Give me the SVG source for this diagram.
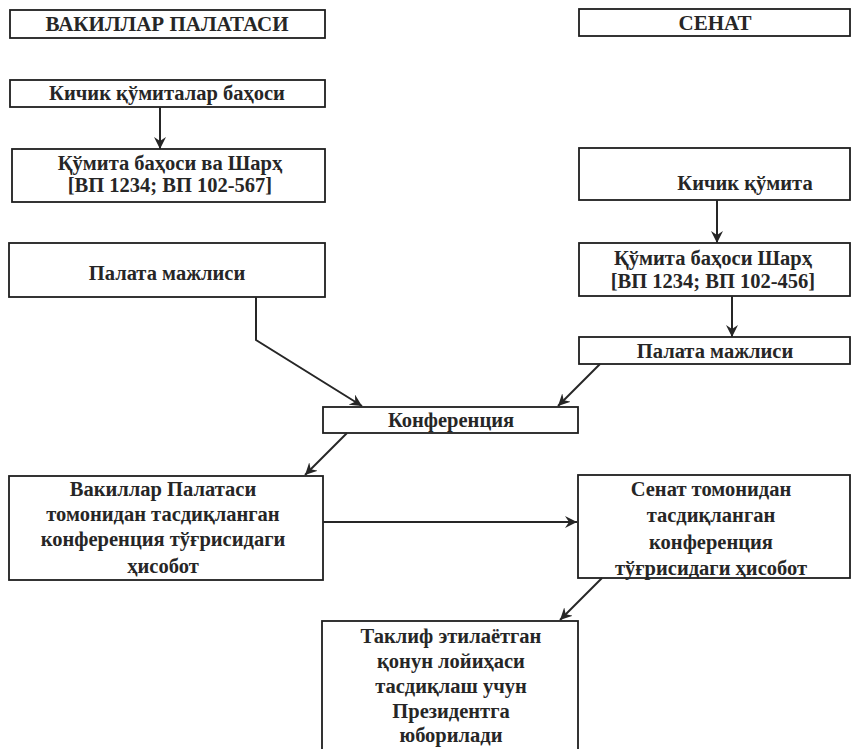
<svg xmlns="http://www.w3.org/2000/svg" width="851" height="749" viewBox="0 0 851 749">
<style>
.box{fill:#fff;stroke:#1e1e1e;stroke-width:1.8}
.t{font-family:"Liberation Serif","Times New Roman",serif;font-weight:bold;font-size:20.5px;fill:#262626;text-anchor:middle}
.h{font-size:21px}
.c{fill:none;stroke:#262626;stroke-width:2}
</style>
<defs>
<marker id="ar" markerUnits="userSpaceOnUse" markerWidth="14" markerHeight="12" refX="12" refY="6" orient="auto">
<path d="M0,0 L12,6 L0,12 L4,6 z" fill="#262626"/>
</marker>
</defs>
<rect width="851" height="749" fill="#fff"/>
<g id="n-vakillar-title"><rect class="box" x="10" y="10" width="315" height="28"/><text class="t h" x="167" y="31">ВАКИЛЛАР ПАЛАТАСИ</text></g>
<g id="n-senat-title"><rect class="box" x="579" y="9" width="271" height="27"/><text class="t h" x="715" y="30">СЕНАТ</text></g>
<g id="n-kichik-l"><rect class="box" x="10" y="80" width="315" height="27"/><text class="t" x="167" y="100">Кичик қўмиталар баҳоси</text></g>
<g id="n-qumita-l"><rect class="box" x="12" y="149" width="313" height="53"/><text class="t" x="170" y="170">Қўмита баҳоси ва Шарҳ</text><text class="t" x="170" y="192">[ВП 1234; ВП 102-567]</text></g>
<g id="n-kichik-r"><rect class="box" x="579" y="148" width="271" height="52"/><text class="t" x="745" y="190">Кичик қўмита</text></g>
<g id="n-palata-l"><rect class="box" x="9" y="243" width="316" height="54"/><text class="t" x="167" y="280">Палата мажлиси</text></g>
<g id="n-qumita-r"><rect class="box" x="579" y="243" width="271" height="53"/><text class="t" x="713" y="265">Қўмита баҳоси Шарҳ</text><text class="t" x="713" y="288">[ВП 1234; ВП 102-456]</text></g>
<g id="n-palata-r"><rect class="box" x="579" y="337" width="271" height="27"/><text class="t" x="715" y="358">Палата мажлиси</text></g>
<g id="n-konf"><rect class="box" x="323" y="407" width="255" height="26"/><text class="t" x="451" y="427">Конференция</text></g>
<g id="n-vp-report"><rect class="box" x="9" y="476" width="314" height="104"/>
<text class="t" x="163" y="496">Вакиллар Палатаси</text>
<text class="t" x="163" y="521">томонидан тасдиқланган</text>
<text class="t" x="163" y="546">конференция тўғрисидаги</text>
<text class="t" x="163" y="573">ҳисобот</text></g>
<g id="n-senat-report"><rect class="box" x="578" y="475" width="272" height="103"/>
<text class="t" x="711" y="496">Сенат томонидан</text>
<text class="t" x="711" y="522">тасдиқланган</text>
<text class="t" x="711" y="549">конференция</text>
<text class="t" x="711" y="575">тўғрисидаги ҳисобот</text></g>
<g id="n-taklif"><rect class="box" x="322" y="621" width="256" height="140"/>
<text class="t" x="451" y="643">Таклиф этилаётган</text>
<text class="t" x="451" y="668">қонун лойиҳаси</text>
<text class="t" x="451" y="693">тасдиқлаш учун</text>
<text class="t" x="451" y="718">Президентга</text>
<text class="t" x="451" y="742">юборилади</text></g>
<g id="connectors">
<path class="c" d="M160,107 L160,149" marker-end="url(#ar)"/>
<path class="c" d="M717,200 L717,243" marker-end="url(#ar)"/>
<path class="c" d="M732,296 L732,337" marker-end="url(#ar)"/>
<path class="c" d="M256,297 L256,340 L362,406" marker-end="url(#ar)"/>
<path class="c" d="M600,364 L558,406" marker-end="url(#ar)"/>
<path class="c" d="M347,433 L305,475" marker-end="url(#ar)"/>
<path class="c" d="M323,522 L577,522" marker-end="url(#ar)"/>
<path class="c" d="M602,578 L560,620" marker-end="url(#ar)"/>
</g>
</svg>
